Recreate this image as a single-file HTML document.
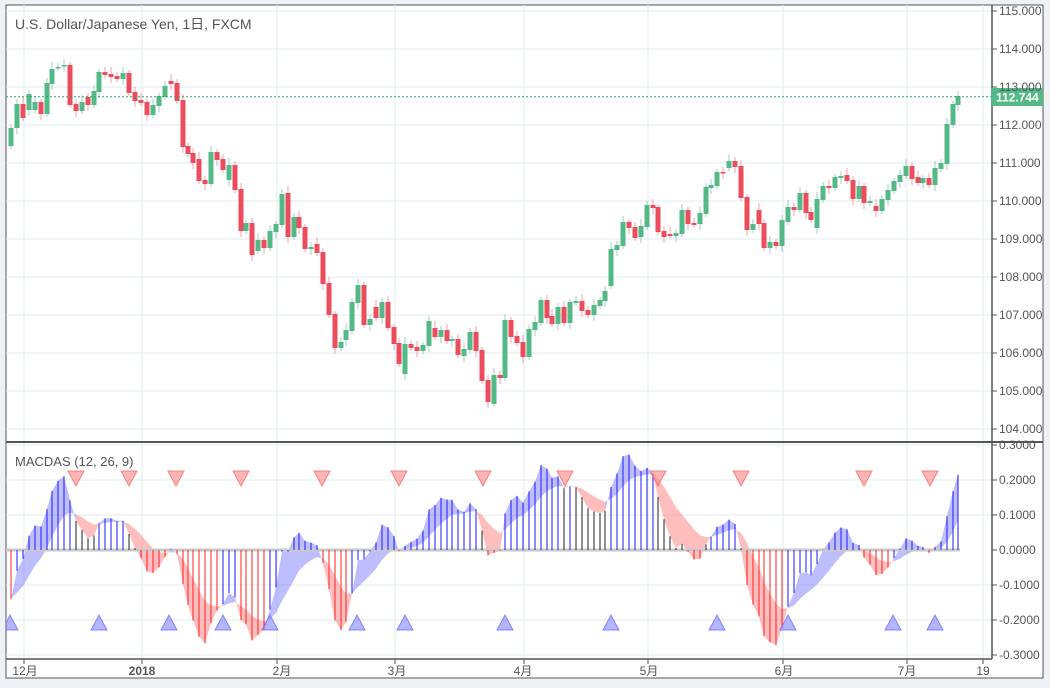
<!DOCTYPE html>
<html><head><meta charset="utf-8">
<style>
html,body{margin:0;padding:0;background:#eef1f5;width:1050px;height:688px;overflow:hidden}
svg{display:block}
text{font-family:"Liberation Sans","Noto Sans CJK JP",sans-serif}
</style></head><body>
<svg id="s" width="1050" height="688" xmlns="http://www.w3.org/2000/svg">
<defs><clipPath id="mp"><rect x="6" y="443" width="986" height="215"/></clipPath></defs>
<rect x="6" y="5" width="1037" height="673" fill="#fff" stroke="#555" stroke-width="1"/>
<g id="grid"></g>
<g id="candles"></g>
<g id="macd" clip-path="url(#mp)"></g>
<line x1="6" y1="96.7" x2="992" y2="96.7" stroke="#2aa36b" stroke-width="1" stroke-dasharray="2,2"/>
<line x1="6" y1="442" x2="1043" y2="442" stroke="#555" stroke-width="2"/>
<line x1="992" y1="5" x2="992" y2="659" stroke="#555" stroke-width="1.5"/>
<line x1="6" y1="659" x2="992" y2="659" stroke="#555" stroke-width="1.5"/>
<rect x="991" y="88" width="52" height="18" fill="#53b987"/>
<text x="996" y="101.5" font-size="12" font-weight="bold" fill="#fff">112.744</text>
<text x="15" y="29" font-size="14" fill="#555">U.S. Dollar/Japanese Yen, 1日, FXCM</text>
<text x="15" y="466" font-size="13" fill="#555">MACDAS (12, 26, 9)</text>
<g id="axis" font-size="12" fill="#555"></g>
</svg>
<script>
var NS="http://www.w3.org/2000/svg";
function el(p,t,a,txt){var e=document.createElementNS(NS,t);for(var k in a)e.setAttribute(k,a[k]);if(txt!=null)e.textContent=txt;p.appendChild(e);return e;}
var G=document.getElementById('grid'),C=document.getElementById('candles'),M=document.getElementById('macd'),A=document.getElementById('axis');
var vx=[24,142,277,395,524,648,783,907,983];
vx.forEach(function(x){el(G,'line',{x1:x,y1:5,x2:x,y2:659,stroke:'#e1ecf2','stroke-width':1});el(A,'line',{x1:x,y1:659,x2:x,y2:664,stroke:'#555'});});
for(var p=104;p<=115;p++){var y=11+(115-p)*38;el(G,'line',{x1:6,y1:y,x2:992,y2:y,stroke:'#e1ecf2'});el(A,'line',{x1:992,y1:y,x2:997,y2:y,stroke:'#555'});el(A,'text',{x:999,y:y+4},p.toFixed(3));}
for(var m=-3;m<=3;m++){var y=550-m*35;if(m!=0)el(G,'line',{x1:6,y1:y,x2:992,y2:y,stroke:'#e1ecf2'});el(A,'line',{x1:992,y1:y,x2:997,y2:y,stroke:'#555'});el(A,'text',{x:999,y:y+4},(m/10).toFixed(4));}
var tl=[[25,'12月'],[142,'2018'],[282,'2月'],[397,'3月'],[523,'4月'],[649,'5月'],[784,'6月'],[907,'7月'],[983,'19']];
tl.forEach(function(t){var e=el(A,'text',{x:t[0],y:675,'text-anchor':'middle'},t[1]);if(t[1]=='2018')e.setAttribute('font-weight','bold');});
var D=[[11,146,128],[17,128,104],[23,104,118],[29,110,94],[35,110,102],[41,102,114],[47,114,83],[52,84,69],[58,68,67],[64,66,65],[70,65,105],[76,104,111],[82,111,102],[88,97,105],[94,105,91],[99,92,72],[105,72,75],[111,74,77],[117,76,79],[123,79,73],[129,73,93],[135,92,101],[141,100,103],[147,102,115],[153,115,105],[159,106,96],[165,97,86],[171,81,84],[177,83,101],[183,100,147],[188,146,154],[193,153,163],[199,159,181],[205,180,184],[211,184,152],[217,152,160],[223,159,170],[229,180,165],[235,165,190],[241,189,231],[246,231,223],[252,223,255],[258,251,240],[264,240,248],[270,248,231],[276,232,224],[282,225,194],[288,193,237],[294,237,217],[299,217,228],[305,227,249],[311,249,247],[317,244,253],[323,252,284],[329,283,315],[335,314,348],[341,348,342],[346,340,330],[352,331,302],[358,303,285],[364,285,325],[370,325,319],[376,307,318],[382,318,302],[388,302,328],[394,327,344],[399,343,364],[405,374,344],[411,344,348],[417,347,351],[423,351,345],[429,346,321],[435,328,337],[441,337,330],[447,330,341],[452,341,339],[458,339,355],[464,356,349],[470,350,332],[476,332,351],[482,350,381],[488,380,402],[494,404,375],[500,375,378],[505,378,320],[511,320,337],[517,336,343],[523,342,357],[529,357,329],[535,330,322],[541,323,300],[547,300,318],[552,316,324],[558,324,307],[564,307,323],[570,323,302],[576,303,301],[582,301,311],[588,310,315],[594,315,305],[600,306,300],[605,301,291],[611,286,249],[617,250,245],[623,246,222],[629,222,228],[635,227,238],[641,237,226],[647,227,205],[653,205,208],[658,207,232],[664,231,237],[670,234,236],[676,236,233],[682,234,210],[688,210,224],[694,223,225],[700,224,213],[706,214,187],[711,188,185],[717,186,172],[723,172,173],[729,168,161],[735,161,167],[741,166,198],[747,197,230],[753,230,224],[759,210,224],[764,223,248],[770,248,242],[776,242,246],[782,246,220],[788,222,207],[794,207,210],[800,210,193],[806,193,213],[811,212,220],[817,228,199],[823,200,186],[829,186,188],[835,188,177],[841,178,176],[847,175,181],[853,180,199],[859,199,186],[864,186,203],[870,203,201],[876,206,211],[882,211,199],[888,200,190],[894,191,181],[900,182,175],[906,176,166],[912,166,179],[918,177,183],[923,183,178],[929,178,185],[935,185,168],[941,169,163],[947,164,124],[953,125,104],[958,105,96]];
D.forEach(function(d,i){var x=d[0],o=d[1],c=d[2],up=c<o;var top=Math.min(o,c),bot=Math.max(o,c);
var w1=3+((i*7)%5),w2=3+((i*3)%6);
el(C,'line',{x1:x,y1:top-w1,x2:x,y2:bot+w2,stroke:up?'#a3cbc6':'#f3a1aa','stroke-width':1});
el(C,'rect',{x:x-2.5,y:top,width:5,height:Math.max(1.5,bot-top),fill:up?'#53b987':'#eb4d5c'});});
// MACD-AS
var pr=[];for(var k=0;k<40;k++)pr.push(113.5);for(var k=0;k<12;k++)pr.push(113.5-k*0.2);
var N=pr.length;D.forEach(function(d){pr.push(115-(d[2]-11)/38);});
function ema(a,n){var r=[],k=2/(n+1),v=a[0];for(var i=0;i<a.length;i++){v=i?a[i]*k+v*(1-k):a[i];r.push(v);}return r;}
var e12=ema(pr,12),e26=ema(pr,26),mc0=e12.map(function(v,i){return v-e26[i];}),sg0=ema(mc0,9);
var mc=mc0.map(function(v,i){return v-sg0[i];}),sg=ema(mc,9);
function my(v){return 550-v*350;}
for(var i=0;i<D.length-1;i++){var a=N+i,b=a+1,x1=D[i][0],x2=D[i+1][0];
var dif=(mc[a]-sg[a])+(mc[b]-sg[b]);
el(M,'polygon',{points:x1+','+my(mc[a])+' '+x2+','+my(mc[b])+' '+x2+','+my(sg[b])+' '+x1+','+my(sg[a]),fill:dif>0?'rgba(110,110,255,0.45)':'rgba(255,110,110,0.45)'});}
el(M,'line',{x1:6,y1:550,x2:960,y2:550,stroke:'#c8c8c8','stroke-width':3});
D.forEach(function(d,i){var a=N+i,v=mc[a];var col=v>sg[a]?'#1a1aff':(v<0?'#ff2020':'#222');
el(M,'line',{x1:d[0],y1:550,x2:d[0],y2:my(v),stroke:col,'stroke-width':1});});
[76,129,176,241,322,399,483,565,658,741,864,930].forEach(function(x){el(M,'polygon',{points:(x-8)+',471 '+(x+8)+',471 '+x+',486',fill:'rgba(255,120,120,0.55)',stroke:'rgba(240,110,110,0.8)'});});
[10,99,169,223,270,357,405,505,611,717,788,893,935].forEach(function(x){el(M,'polygon',{points:(x-8)+',630 '+(x+8)+',630 '+x+',615',fill:'rgba(120,120,255,0.55)',stroke:'rgba(110,110,240,0.8)'});});
</script>
</body></html>
